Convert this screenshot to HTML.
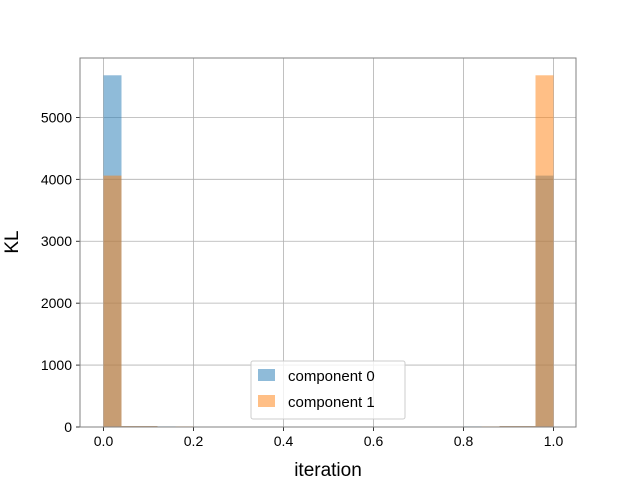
<!DOCTYPE html>
<html><head><meta charset="utf-8"><style>body{margin:0;background:#fff}svg{display:block;font-family:"Liberation Sans","DejaVu Sans",sans-serif}</style></head>
<body>
<svg id="c" width="640" height="480"></svg>
<script>
const binEdgesStart = 0, binCount = 25, binWidth = 0.04;
const comp0 = [5680,15,15,10,0,0,0,0,0,0,0,0,0,0,0,0,0,0,0,0,10,0,15,15,4060];
const comp1 = [4060,15,15,0,10,0,0,0,0,0,0,0,0,0,0,0,0,0,0,0,0,10,15,15,5680];
const xTicks = [0.0,0.2,0.4,0.6,0.8,1.0];
const yTicks = [0,1000,2000,3000,4000,5000];
const L=80,R=576,T=58,B=427;
const xs=v=>103.5+v*450, ys=v=>B-v*0.06192;
const svg=document.getElementById('c'),NS='http://www.w3.org/2000/svg';
function mk(t,a,p){const e=document.createElementNS(NS,t);for(const k in a)e.setAttribute(k,a[k]);(p||svg).appendChild(e);return e;}
const grid=mk('g',{});


xTicks.forEach(v=>{const x=xs(v);
mk('line',{x1:x,x2:x,y1:T,y2:B,stroke:'#b0b0b0','stroke-width':0.8},grid);
mk('line',{x1:x,x2:x,y1:B,y2:B+4,stroke:'#000','stroke-width':0.8});
const t=mk('text',{x:x,y:B+19,'text-anchor':'middle','font-size':14});t.textContent=v.toFixed(1);

});
yTicks.forEach(v=>{const y=ys(v);
mk('line',{x1:L,x2:R,y1:y,y2:y,stroke:'#b0b0b0','stroke-width':0.8},grid);
mk('line',{x1:L-4,x2:L,y1:y,y2:y,stroke:'#000','stroke-width':0.8});
const t=mk('text',{x:L-8,y:y+5,'text-anchor':'end','font-size':14});t.textContent=v;

});
[[comp0,'#1f77b4','component-0'],[comp1,'#ff7f0e','component-1']].forEach(([d,c,n])=>{
d.forEach((v,i)=>{if(!v)return;const x0=xs(binEdgesStart+i*binWidth),x1=xs(binEdgesStart+(i+1)*binWidth);
const r=mk('rect',{x:x0,y:ys(v),width:x1-x0,height:B-ys(v),fill:c,'fill-opacity':0.5});

});});
const fr=mk('rect',{x:L,y:T,width:R-L,height:B-T,fill:'none',stroke:'#808080','stroke-width':1});


const xl=mk('text',{x:328,y:476,'text-anchor':'middle','font-size':19});xl.textContent='iteration';


const yl=mk('text',{x:18,y:242,'text-anchor':'middle','font-size':19,transform:'rotate(-90 18 242)'});yl.textContent='KL';


const lg=mk('g',{});


mk('rect',{x:251,y:361,width:154,height:58,fill:'#fff','fill-opacity':0.8,stroke:'#ccc',rx:2},lg);
[['component 0','#1f77b4',369],['component 1','#ff7f0e',395]].forEach(([s,c,y])=>{
const sw=mk('rect',{x:258,y:y,width:17,height:12,fill:c,'fill-opacity':0.5},lg);


const t=mk('text',{x:288,y:y+12,'font-size':15},lg);t.textContent=s;

});
</script>
</body></html>
